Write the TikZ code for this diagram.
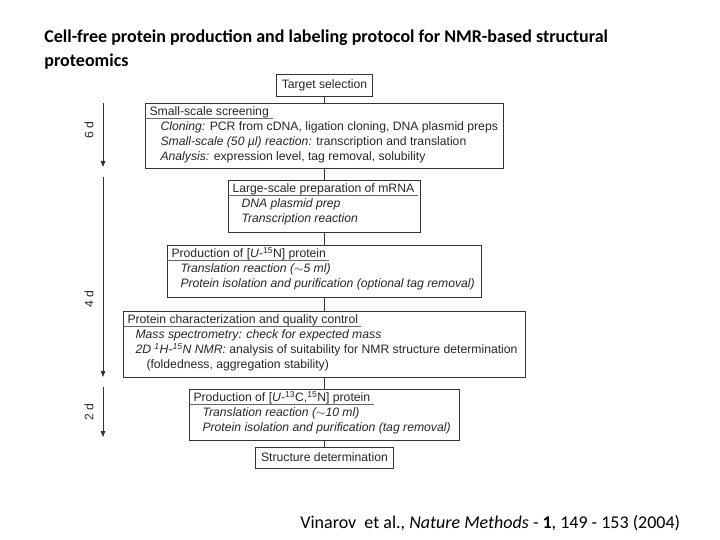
\documentclass[tikz,border=0pt]{standalone}
\usepackage{fontspec}
\setmainfont{Liberation Sans}
\newfontfamily\titlefont{Carlito}
\usetikzlibrary{arrows.meta}

\begin{document}
\begin{tikzpicture}[
    x=1pt, y=-1pt,
    line width=0.8pt,
    >={Triangle[length=6pt,width=4.5pt]},
    frame/.style={draw=black!80, inner sep=0pt, text=black!85, font=\fontsize{12.2}{14}\selectfont},
    head/.style={anchor=base west, inner sep=0pt, text=black!85, font=\fontsize{12.2}{14}\selectfont},
    body/.style={anchor=base west, inner sep=0pt, text=black!85,
      font=\fontsize{12.2}{14}\selectfont\renewcommand{\arraystretch}{1.07}},
    uline/.style={draw=black!60, line width=0.6pt},
    link/.style={draw=black!80},
    days/.style={rotate=90, inner sep=0pt, text=black!85, font=\fontsize{12.2}{14}\selectfont},
    caption/.style={anchor=base west, inner sep=0pt, text=black},
  ]
  \useasboundingbox (0,0) rectangle (720,540);

  % Title
  \node[caption, font=\titlefont\bfseries\fontsize{18}{24}\selectfont] (title) at (44,43)
    {\begin{tabular}[t]{@{}l@{}}Cell-free protein production and labeling protocol for NMR-based structural\\proteomics\end{tabular}};

  % Boxes
  \node[frame, minimum width=96, minimum height=22] (target) at (324.5,85) {Target selection};

  \node[frame, minimum width=358, minimum height=65] (small) at (324.5,135.5) {};
  \node[head] (smallhead) at ([shift={(4,13)}]small.north west) {Small-scale screening};
  \node[body] (smallbody) at ([shift={(15,28)}]small.north west)
    {\begin{tabular}[t]{@{}l@{}}\textit{Cloning:} PCR from cDNA, ligation cloning, DNA plasmid preps\\
     \textit{Small-scale (50 µl) reaction:} transcription and translation\\
     \textit{Analysis:} expression level, tag removal, solubility\end{tabular}};

  \node[frame, minimum width=192, minimum height=52] (large) at (324.5,206) {};
  \node[head] (largehead) at ([shift={(4,13)}]large.north west) {Large-scale preparation of mRNA};
  \node[body] (largebody) at ([shift={(13,28)}]large.north west)
    {\begin{tabular}[t]{@{}l@{}}\textit{DNA plasmid prep}\\\textit{Transcription reaction}\end{tabular}};

  \node[frame, minimum width=314, minimum height=52] (prodN) at (324.5,271) {};
  \node[head] (prodNhead) at ([shift={(4,13)}]prodN.north west)
    {Production of [\textit{U}-\textsuperscript{15}N] protein};
  \node[body] (prodNbody) at ([shift={(13,28)}]prodN.north west)
    {\begin{tabular}[t]{@{}l@{}}\textit{Translation reaction ($\sim$5 ml)}\\
     \textit{Protein isolation and purification (optional tag removal)}\end{tabular}};

  \node[frame, minimum width=402, minimum height=66] (charac) at (324.5,344) {};
  \node[head] (charachead) at ([shift={(4,13)}]charac.north west)
    {Protein characterization and quality control};
  \node[body] (characbody) at ([shift={(12,28)}]charac.north west)
    {\begin{tabular}[t]{@{}l@{}}\textit{Mass spectrometry: check for expected mass}\\
     \textit{2D \textsuperscript{1}H-\textsuperscript{15}N NMR:} analysis of suitability for NMR structure determination\\
     \hspace{11pt}(foldedness, aggregation stability)\end{tabular}};

  \node[frame, minimum width=270, minimum height=51] (prodCN) at (324.5,414.5) {};
  \node[head] (prodCNhead) at ([shift={(4,13)}]prodCN.north west)
    {Production of [\textit{U}-\textsuperscript{13}C,\textsuperscript{15}N] protein};
  \node[body] (prodCNbody) at ([shift={(13,28)}]prodCN.north west)
    {\begin{tabular}[t]{@{}l@{}}\textit{Translation reaction ($\sim$10 ml)}\\
     \textit{Protein isolation and purification (tag removal)}\end{tabular}};

  \node[frame, minimum width=138, minimum height=21] (struct) at (324.5,457.5) {Structure determination};

  % Header underlines
  \draw[uline] ([yshift=-3pt]small.west |- smallhead.base) -- ([xshift=4pt,yshift=-3pt]smallhead.base east);
  \draw[uline] ([yshift=-3pt]large.west |- largehead.base) -- ([xshift=3pt,yshift=-3pt]largehead.base east);
  \draw[uline] ([yshift=-3pt]prodN.west |- prodNhead.base) -- ([xshift=3pt,yshift=-3pt]prodNhead.base east);
  \draw[uline] ([yshift=-3pt]charac.west |- charachead.base) -- ([xshift=3pt,yshift=-3pt]charachead.base east);
  \draw[uline] ([yshift=-3pt]prodCN.west |- prodCNhead.base) -- ([xshift=3pt,yshift=-3pt]prodCNhead.base east);

  % Main flow
  \draw[link] (target.south) -- (small.north);
  \draw[link] (small.south) -- (large.north);
  \draw[link] (large.south) -- (prodN.north);
  \draw[link] (prodN.south) -- (charac.north);
  \draw[link] (charac.south) -- (prodCN.north);
  \draw[link] (prodCN.south) -- (struct.north);

  % Time scale
  \coordinate (sixtop) at (103,103);
  \coordinate (sixend) at (103,167);
  \coordinate (fourtop) at (103,177);
  \coordinate (fourend) at (103,377);
  \coordinate (twotop) at (103,387);
  \coordinate (twoend) at (103,437);
  \draw[->, link] (sixtop) -- (sixend);
  \draw[->, link] (fourtop) -- (fourend);
  \draw[->, link] (twotop) -- (twoend);
  \node[days] (six) at (89,130) {6 d};
  \node[days] (four) at (89,299) {4 d};
  \node[days] (two) at (89,412) {2 d};

  % Reference
  \node[caption, font=\titlefont\fontsize{18}{22}\selectfont] (cite) at (300,528)
    {Vinarov\ \ et al., \textit{Nature Methods} - \textbf{1}, 149 - 153 (2004)};
\end{tikzpicture}
\end{document}
